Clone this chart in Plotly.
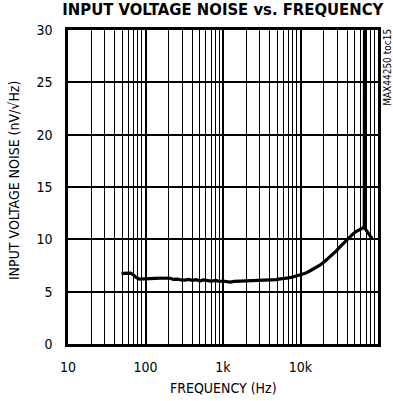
import plotly.graph_objects as go

freq_hz = [49, 53, 59, 64, 70, 76, 84, 92, 100, 115, 130, 153, 175, 200, 230, 260, 290, 323, 360,
           400, 450, 500, 560, 630, 700, 800, 900, 1000, 1130, 1230, 1400, 1600, 1800, 2000, 2300,
           2600, 3000, 3400, 3800, 4300, 4800, 5500, 6200, 7000, 8000, 9000, 10000, 11500, 13000,
           15000, 18000, 21000, 25000, 29000, 33000, 37000, 41000, 44600, 48000, 52000, 56000,
           60000, 64000, 66500, 67000, 67500, 70000, 73000, 76000, 80000, 85000]
noise_nv = [6.75, 6.78, 6.82, 6.78, 6.6, 6.35, 6.2, 6.22, 6.25, 6.28, 6.3, 6.3, 6.28, 6.3, 6.18, 6.2,
            6.12, 6.1, 6.18, 6.08, 6.15, 6.02, 6.12, 6.05, 6.0, 6.08, 5.98, 6.02, 5.95, 5.92, 5.98,
            6.0, 5.95, 6.02, 6.05, 6.0, 6.08, 6.05, 6.1, 6.12, 6.15, 6.22, 6.25, 6.32, 6.4, 6.5,
            6.57, 6.75, 6.95, 7.2, 7.55, 7.95, 8.45, 8.9, 9.35, 9.75, 10.05, 10.3, 10.55, 10.75,
            10.85, 11.0, 11.1, 11.2, 31.0, 11.1, 10.9, 10.7, 10.5, 10.25, 10.0]

x_tickvals = [10, 100, 1000, 10000, 100000]
x_ticktext = ["10", "100", "1k", "10k", "100k"]
y_tickvals = [0, 5, 10, 15, 20, 25, 30]

FONT = "DejaVu Sans Condensed"

fig = go.Figure()
fig.add_trace(go.Scatter(x=freq_hz, y=noise_nv, mode="lines",
                         line=dict(color="black", width=3.2), showlegend=False))

fig.update_layout(
    width=393, height=401,
    margin=dict(l=68, r=15, t=30, b=57, autoexpand=False),
    paper_bgcolor="white", plot_bgcolor="white",
    font=dict(family=FONT, size=14, color="black"),
    title=dict(text="<b>INPUT VOLTAGE NOISE vs. FREQUENCY</b>", x=0.567, xanchor="center",
               y=0.976, yanchor="middle", font=dict(family=FONT, size=16.5, color="black")),
)
fig.update_xaxes(type="log", range=[1, 5], tickvals=x_tickvals, ticktext=x_ticktext,
                 showgrid=True, gridcolor="black", gridwidth=2.2,
                 minor=dict(dtick="D1", showgrid=True, gridcolor="black", gridwidth=1.3, ticks=""),
                 showline=True, linecolor="black", linewidth=2.5, mirror=True,
                 ticks="", ticklabelstandoff=8, automargin=False,
                 tickfont=dict(size=14), zeroline=False)
fig.update_yaxes(range=[0, 30], tickvals=y_tickvals, showgrid=True, gridcolor="black", gridwidth=1.5,
                 showline=True, linecolor="black", linewidth=2.5, mirror=True,
                 ticks="", ticklabelstandoff=10, automargin=False,
                 tickfont=dict(size=14), zeroline=False)

fig.add_annotation(text="FREQUENCY (Hz)", xref="paper", yref="paper",
                   x=0.5, y=0, yshift=-44, xanchor="center", yanchor="middle", showarrow=False,
                   font=dict(family=FONT, size=14, color="black"))
fig.add_annotation(text="INPUT VOLTAGE NOISE (nV/√Hz)", textangle=-90, xref="paper", yref="paper",
                   x=-0.174, y=0.519, xanchor="center", yanchor="middle", showarrow=False,
                   font=dict(family=FONT, size=14, color="black"))
fig.add_annotation(text="MAX44250 toc15", textangle=-90, xref="paper", yref="paper",
                   x=1.0, xshift=2, y=1.01, xanchor="left", yanchor="top", showarrow=False,
                   font=dict(family=FONT, size=10, color="black"))

fig.write_html("out.html", config={"displayModeBar": False},
               post_script="document.body.style.margin='0';document.body.style.padding='0';")
